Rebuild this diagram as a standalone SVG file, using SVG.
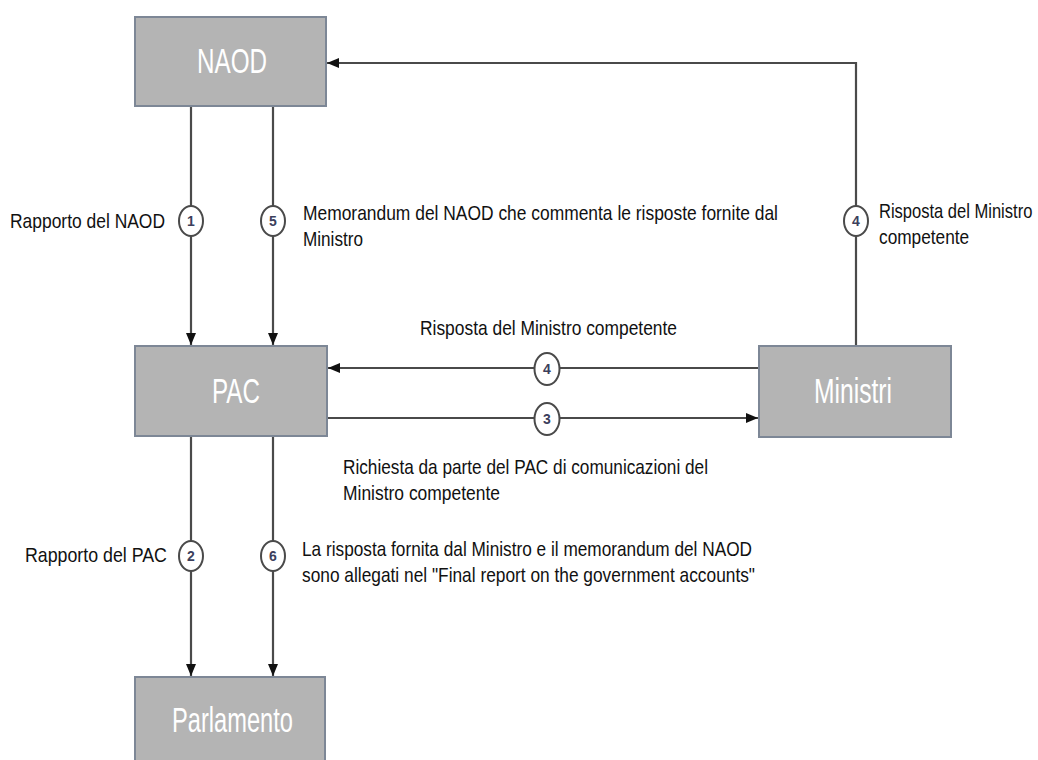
<svg xmlns="http://www.w3.org/2000/svg" width="1038" height="760" viewBox="0 0 1038 760">
<style>
.box{fill:#b4b4b4;stroke:#7d8796;stroke-width:2}
.bt{font-family:"Liberation Sans",Arial,sans-serif;font-size:35px;fill:#ffffff;text-anchor:start}
.ln{fill:none;stroke:#4a4a4a;stroke-width:2.2}
.cir{fill:#ffffff;stroke:#4a4a4a;stroke-width:2}
.num{font-family:"Liberation Sans",Arial,sans-serif;font-size:14px;font-weight:bold;fill:#3c3f5c;text-anchor:middle}
.lab{font-family:"Liberation Sans",Arial,sans-serif;font-size:21px;fill:#111111}
</style>
<defs>
<marker id="ah" markerUnits="userSpaceOnUse" markerWidth="14" markerHeight="12" refX="12" refY="5" orient="auto">
<path d="M0,0 L12,5 L0,10 Z" fill="#111111"/>
</marker>
</defs>
<rect width="1038" height="760" fill="#ffffff"/>
<g id="connectors">
<line class="ln" x1="191" y1="106" x2="191" y2="345" marker-end="url(#ah)"/>
<line class="ln" x1="273" y1="106" x2="273" y2="345" marker-end="url(#ah)"/>
<line class="ln" x1="191" y1="437" x2="191" y2="676" marker-end="url(#ah)"/>
<line class="ln" x1="273" y1="437" x2="273" y2="676" marker-end="url(#ah)"/>
<polyline class="ln" points="856,346 856,63 327,63" marker-end="url(#ah)"/>
<line class="ln" x1="759" y1="368" x2="328" y2="368" marker-end="url(#ah)"/>
<line class="ln" x1="327" y1="418" x2="758" y2="418" marker-end="url(#ah)"/>
<ellipse class="cir" cx="191" cy="221" rx="12" ry="15"/>
<text class="num" x="191" y="226">1</text>
<ellipse class="cir" cx="273" cy="221" rx="12" ry="15"/>
<text class="num" x="273" y="226">5</text>
<ellipse class="cir" cx="856" cy="221" rx="12" ry="15"/>
<text class="num" x="856" y="226">4</text>
<ellipse class="cir" cx="191" cy="556" rx="12" ry="15"/>
<text class="num" x="191" y="561">2</text>
<ellipse class="cir" cx="273" cy="556" rx="12" ry="15"/>
<text class="num" x="273" y="561">6</text>
<ellipse class="cir" cx="547" cy="369" rx="12.5" ry="16"/>
<text class="num" x="547" y="374">4</text>
<ellipse class="cir" cx="547" cy="419" rx="12.5" ry="16"/>
<text class="num" x="547" y="424">3</text>
</g>
<g id="labels">
<text class="lab" transform="translate(10,228) scale(0.82,1)" textLength="189" lengthAdjust="spacingAndGlyphs">Rapporto del NAOD</text>
<text class="lab" x="303" y="220" textLength="475" lengthAdjust="spacingAndGlyphs">Memorandum del NAOD che commenta le risposte fornite dal</text>
<text class="lab" x="303" y="246" textLength="60" lengthAdjust="spacingAndGlyphs">Ministro</text>
<text class="lab" transform="translate(879,218) scale(0.82,1)" textLength="187" lengthAdjust="spacingAndGlyphs">Risposta del Ministro</text>
<text class="lab" transform="translate(879,244) scale(0.82,1)" textLength="110" lengthAdjust="spacingAndGlyphs">competente</text>
<text class="lab" x="420" y="335" textLength="257" lengthAdjust="spacingAndGlyphs">Risposta del Ministro competente</text>
<text class="lab" x="343" y="474" textLength="365" lengthAdjust="spacingAndGlyphs">Richiesta da parte del PAC di comunicazioni del</text>
<text class="lab" x="343" y="500" textLength="157" lengthAdjust="spacingAndGlyphs">Ministro competente</text>
<text class="lab" transform="translate(25,562) scale(0.82,1)" textLength="173" lengthAdjust="spacingAndGlyphs">Rapporto del PAC</text>
<text class="lab" x="302" y="556" textLength="450" lengthAdjust="spacingAndGlyphs">La risposta fornita dal Ministro e il memorandum del NAOD</text>
<text class="lab" x="302" y="582" textLength="453" lengthAdjust="spacingAndGlyphs">sono allegati nel "Final report on the government accounts"</text>
</g>
<g id="node-naod">
<rect class="box" x="135" y="17" width="191" height="89"/>
<text class="bt" x="197" y="73" textLength="70" lengthAdjust="spacingAndGlyphs">NAOD</text>
</g>
<g id="node-pac">
<rect class="box" x="135" y="346" width="192" height="90"/>
<text class="bt" x="212" y="403" textLength="48" lengthAdjust="spacingAndGlyphs">PAC</text>
</g>
<g id="node-ministri">
<rect class="box" x="759" y="346" width="192" height="91"/>
<text class="bt" x="814" y="403" textLength="78" lengthAdjust="spacingAndGlyphs">Ministri</text>
</g>
<g id="node-parlamento">
<rect class="box" x="135" y="677" width="190" height="100"/>
<text class="bt" x="172" y="732" textLength="121" lengthAdjust="spacingAndGlyphs">Parlamento</text>
</g>
</svg>
